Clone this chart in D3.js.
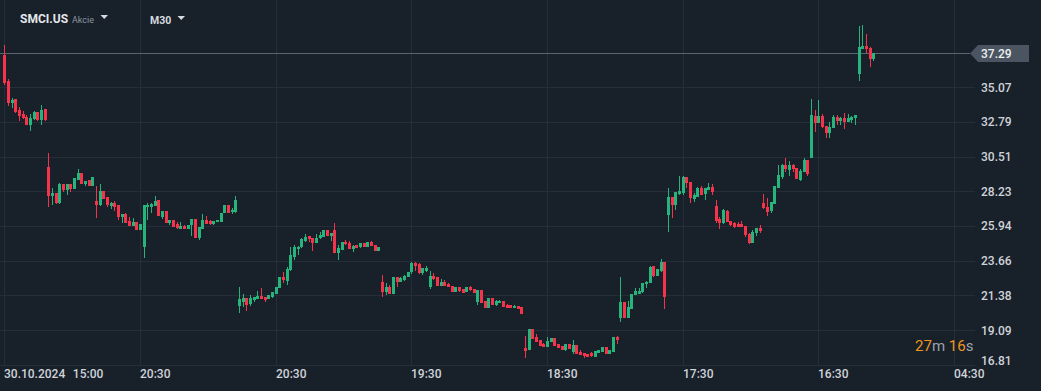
<!DOCTYPE html>
<html><head><meta charset="utf-8">
<script src="https://cdn.jsdelivr.net/npm/d3@7"></script>
<style>
html,body{margin:0;padding:0;background:#18202a;}
svg{display:block;}
</style></head><body>
<svg id="c" width="1041" height="391"></svg>
<script>
// ---- data (SMCI.US, M30 candles) ----
const opens=[37.17,35.47,34.00,34.28,33.56,33.30,33.08,32.60,32.95,33.41,32.90,33.61,
29.82,27.93,28.09,27.45,28.74,28.33,28.70,28.37,28.98,29.42,28.70,28.96,28.59,27.58,27.34,28.24,27.84,27.28,27.47,27.34,26.51,26.73,26.27,25.96,26.20,25.70,24.54,27.17,27.21,27.28,27.65,26.55,26.92,26.16,26.33,26.09,25.76,25.94,25.76,25.98,26.40,25.17,25.76,26.33,26.27,26.09,26.18,26.22,26.79,27.32,26.88,26.88,
20.69,20.97,21.19,20.82,21.08,21.17,21.32,21.26,21.12,21.26,21.50,21.85,22.61,22.33,23.05,23.93,24.45,24.58,24.98,25.28,25.15,24.85,25.13,25.20,25.68,25.31,25.68,24.15,24.39,24.91,24.85,24.43,24.69,24.56,24.83,24.56,24.87,24.72,24.32,
22.26,21.63,21.91,21.50,22.57,22.28,22.39,22.57,22.94,23.51,23.45,22.88,23.01,21.96,22.66,22.57,22.02,22.26,22.13,22.00,21.63,21.91,21.78,21.63,21.91,21.80,20.93,21.74,20.99,20.58,21.21,20.73,20.86,20.99,20.77,20.73,20.53,20.69,20.62,
17.90,17.80,19.17,18.67,18.47,18.21,18.01,18.30,18.61,18.19,18.06,17.82,18.19,17.69,18.10,17.69,17.60,17.53,17.58,17.36,17.62,17.69,18.00,17.56,17.69,18.63,
19.92,20.95,19.92,20.51,21.39,21.48,21.61,22.11,22.18,23.32,22.68,23.01,23.58,
26.69,27.85,27.33,28.07,28.11,29.16,28.81,27.72,27.87,28.44,28.07,28.31,28.51,
27.28,26.41,26.12,26.93,26.27,26.12,26.08,26.08,25.95,25.42,24.85,25.46,25.81,
27.46,27.17,26.95,27.41,28.46,29.14,29.95,29.60,29.95,29.73,28.95,29.47,30.28,30.39,33.17,32.69,33.17,32.52,32.08,32.36,33.09,32.87,33.04,32.80,32.91,33.02,
35.91,37.60,37.77,37.64,36.94];
const highs=[37.83,35.64,34.39,34.28,33.74,33.50,33.21,33.30,33.50,33.47,33.89,33.63,
30.74,28.44,28.09,28.79,28.74,28.70,28.70,29.09,29.68,29.42,28.92,28.96,29.16,28.59,28.70,28.24,27.84,27.52,27.58,27.34,26.75,26.77,26.53,26.47,26.20,26.11,27.32,27.49,27.49,27.91,27.65,26.92,26.92,26.33,26.33,26.20,26.20,25.98,26.00,26.40,26.40,25.90,26.73,26.60,26.33,26.27,26.33,26.79,27.34,27.32,27.10,27.91,
21.93,21.45,21.19,21.39,21.30,21.65,21.85,21.26,21.41,21.63,21.96,22.57,22.92,23.27,24.56,24.67,24.63,25.18,25.39,25.28,25.15,25.42,25.53,25.68,25.68,25.50,26.14,24.69,24.89,25.02,24.93,24.72,24.69,24.85,24.83,24.91,24.93,24.72,24.56,
22.72,22.17,22.07,22.57,22.57,22.57,22.72,22.92,23.58,23.58,23.53,23.16,23.31,22.96,22.83,22.61,22.48,22.39,22.17,22.00,21.91,21.91,21.78,21.93,22.00,21.80,21.74,21.74,20.99,21.21,21.21,21.08,21.10,21.01,20.82,20.73,20.75,20.69,20.64,
18.71,19.17,19.17,18.85,18.47,18.23,18.67,18.61,18.61,18.19,18.06,18.19,18.19,18.45,18.10,17.82,17.60,17.53,17.69,17.73,17.82,18.00,18.00,17.80,18.63,18.72,
22.60,20.95,21.02,21.48,21.87,21.87,22.22,22.33,23.32,23.32,23.14,23.80,23.58,
28.46,27.85,28.20,29.25,29.23,29.16,28.81,28.11,28.49,28.57,28.46,28.75,28.70,
27.65,26.56,27.08,27.00,26.27,26.23,26.23,26.27,25.95,25.46,25.68,25.79,26.01,
28.05,27.79,27.52,28.57,29.95,30.02,30.41,30.22,30.02,29.73,29.71,30.41,30.28,34.29,33.57,34.22,33.30,32.52,32.78,33.24,33.24,33.13,33.37,33.30,33.17,33.24,
39.09,39.15,38.56,37.73,37.33];
const lows=[35.20,33.85,33.69,33.39,32.86,33.01,32.58,32.20,32.90,32.84,32.60,32.84,
27.21,27.34,27.41,27.41,28.20,28.00,28.20,28.37,28.98,28.72,28.57,28.59,28.59,26.49,27.28,27.69,27.21,27.08,26.95,26.36,26.16,26.14,25.96,25.96,25.70,25.70,23.86,26.33,26.82,27.28,26.62,26.42,26.14,25.98,25.87,25.76,25.76,25.76,25.76,25.30,25.17,25.02,25.76,26.05,26.00,26.00,26.18,26.22,26.79,26.79,26.71,26.77,
20.20,20.64,20.38,20.69,20.97,21.12,21.15,20.95,21.12,21.23,21.50,21.85,22.20,22.09,22.99,23.71,24.04,24.52,24.89,24.91,24.32,24.85,25.09,25.20,25.31,24.98,24.15,23.71,24.37,24.72,24.41,24.26,24.52,24.52,24.58,24.56,24.65,24.32,24.32,
21.30,21.43,21.50,21.50,21.96,22.28,22.35,22.57,22.79,23.01,22.81,22.74,22.92,21.80,22.39,22.02,22.02,22.02,21.91,21.63,21.63,21.63,21.56,21.63,21.67,21.56,20.77,20.86,20.58,20.58,20.77,20.69,20.86,20.64,20.58,20.58,20.53,20.51,20.18,
17.29,17.80,18.54,18.34,18.08,18.01,18.01,18.30,18.08,17.95,17.82,17.73,17.88,17.53,17.53,17.47,17.25,17.31,17.36,17.36,17.58,17.69,17.56,17.56,17.69,18.19,
19.66,19.92,19.92,20.51,21.39,21.48,21.54,21.89,22.18,22.62,22.68,22.95,20.51,
25.57,26.49,27.02,27.96,27.96,28.42,27.48,27.54,27.87,27.98,27.68,28.31,27.98,
26.12,25.77,26.08,26.21,25.95,25.81,25.90,25.86,25.25,24.79,24.85,25.29,25.51,
27.04,26.63,26.82,27.41,28.46,29.06,29.49,29.25,29.47,29.01,28.90,29.47,29.25,30.39,32.14,32.69,32.36,31.75,31.75,32.36,32.58,32.58,32.34,32.80,32.73,32.60,
35.49,37.55,37.33,36.41,36.81];
const closes=[35.36,34.00,34.26,33.45,33.19,33.06,32.60,33.04,33.43,32.90,33.56,32.90,
27.93,28.13,27.45,28.74,28.33,28.70,28.37,29.09,29.42,28.72,28.90,28.59,29.16,27.34,28.24,27.71,27.34,27.47,27.21,26.51,26.73,26.16,25.96,26.20,25.70,26.07,27.32,27.32,27.39,27.56,26.62,26.90,26.16,26.33,25.90,25.83,25.94,25.76,25.98,26.40,25.17,25.85,26.33,26.11,26.09,26.25,26.33,26.79,27.32,26.79,26.99,27.65,
21.15,21.19,20.75,21.21,21.30,21.32,21.15,21.08,21.39,21.58,21.91,22.57,22.39,23.10,24.04,24.54,24.58,25.09,25.24,25.09,24.85,25.13,25.35,25.66,25.31,25.48,24.19,24.50,24.89,24.74,24.43,24.65,24.52,24.83,24.58,24.89,24.65,24.32,24.56,
21.61,21.91,21.50,22.57,22.28,22.50,22.66,22.90,23.51,23.31,22.88,23.16,23.18,22.63,22.44,22.02,22.24,22.02,21.91,21.63,21.91,21.69,21.56,21.91,21.74,21.56,21.74,20.90,20.58,21.21,20.77,21.01,21.01,20.64,20.58,20.58,20.66,20.51,20.18,
17.75,19.17,18.54,18.34,18.08,18.01,18.39,18.56,18.08,17.95,17.82,18.19,17.88,18.10,17.53,17.47,17.40,17.36,17.38,17.71,17.80,18.00,17.56,17.80,18.63,18.46,
20.95,19.92,20.62,21.48,21.70,21.68,22.18,22.29,23.25,22.66,23.14,23.58,21.30,
27.85,27.33,28.16,28.25,29.16,28.75,27.81,28.00,28.44,27.98,28.44,28.51,28.20,
26.30,26.12,27.00,26.23,25.99,25.90,25.90,25.86,25.36,24.85,25.53,25.79,25.62,
27.15,26.89,27.52,28.57,29.30,29.95,29.67,29.95,29.67,29.01,29.54,30.28,29.38,33.24,32.69,33.17,32.43,32.08,32.45,33.13,32.84,33.06,32.76,33.04,33.13,33.22,
37.68,37.75,37.55,36.94,37.29];

const priceTicks=[16.81,19.09,21.38,23.66,25.94,28.23,30.51,32.79,35.07];
const extraGridPrices=[37.35];
const timeTickIdx=[0,37,74,111,148,185,222,259];
const timeTickLabels=["30.10.2024","20:30","20:30","19:30","18:30","17:30","16:30","04:30"];
const extraTimeIdx=[18.7];
const extraTimeLabels=["15:00"];
const symbol="SMCI.US", symbolType="Akcie", interval="M30";
const lastPrice=37.29;
const countdown=[["27","m"],["16","s"]];

// ---- drawing ----
const W=1041,H=391;
const svg=d3.select("#c");
const C={bg:"#18202a",grid:"#252e38",up:"#27b47c",down:"#f5334a",text:"#cfd3d8",price:"#5b6570",tag:"#4a5561"};
const x=d3.scaleLinear().domain([0,259]).range([4.3,954]);
const y=d3.scaleLinear().domain([16.81,35.07]).range([365,87.2]);
const plotRight=975;

svg.append("rect").attr("width",W).attr("height",H).attr("fill",C.bg);

const g=svg.append("g");
g.selectAll("line.hg").data(priceTicks.concat(extraGridPrices)).join("line")
 .attr("x1",0).attr("x2",plotRight)
 .attr("y1",d=>Math.round(y(d))+0.5).attr("y2",d=>Math.round(y(d))+0.5)
 .attr("stroke",C.grid).attr("stroke-width",1);
g.selectAll("line.vg").data(timeTickIdx).join("line")
 .attr("x1",d=>Math.round(x(d))+0.5).attr("x2",d=>Math.round(x(d))+0.5)
 .attr("y1",0).attr("y2",365)
 .attr("stroke",C.grid).attr("stroke-width",1);

svg.append("line").attr("x1",0).attr("x2",970)
 .attr("y1",Math.round(y(lastPrice))+0.5).attr("y2",Math.round(y(lastPrice))+0.5)
 .attr("stroke",C.price).attr("stroke-width",1);

const candles=opens.map((o,i)=>({i,o,h:highs[i],l:lows[i],c:closes[i]}));
const cg=svg.append("g").attr("shape-rendering","crispEdges");
const cs=cg.selectAll("g").data(candles).join("g");
cs.append("rect")
 .attr("x",d=>Math.round(x(d.i)))
 .attr("width",1)
 .attr("y",d=>y(d.h))
 .attr("height",d=>Math.max(1,y(d.l)-y(d.h)))
 .attr("fill",d=>d.c>=d.o?C.up:C.down);
cs.append("rect")
 .attr("x",d=>Math.round(x(d.i))-1)
 .attr("width",3)
 .attr("y",d=>y(Math.max(d.o,d.c)))
 .attr("height",d=>Math.max(1,Math.abs(y(d.o)-y(d.c))))
 .attr("fill",d=>d.c>=d.o?C.up:C.down);

const font="Roboto, 'Noto Sans', sans-serif";
svg.selectAll("text.py").data(priceTicks).join("text")
 .attr("x",981).attr("y",(d,i)=>y(d)-(i===0?4:0)).attr("dy","0.36em")
 .attr("fill",C.text).attr("font-family",font).attr("font-size",12).attr("font-weight",500)
 .text(d=>d.toFixed(2));

svg.selectAll("text.tx").data(timeTickIdx).join("text")
 .attr("x",(d)=>Math.round(x(d))).attr("y",378)
 .attr("fill",C.text).attr("font-family",font).attr("font-size",12).attr("font-weight",500)
 .text((d,i)=>timeTickLabels[i]);
svg.selectAll("text.tx2").data(extraTimeIdx).join("text")
 .attr("x",d=>x(d)).attr("y",378)
 .attr("fill",C.text).attr("font-family",font).attr("font-size",12).attr("font-weight",500)
 .text((d,i)=>extraTimeLabels[i]);

const ty=y(lastPrice);
svg.append("path")
 .attr("d",`M970,${ty} L978,${ty-8.5} L1029,${ty-8.5} L1029,${ty+8.5} L978,${ty+8.5} Z`)
 .attr("fill",C.tag);
svg.append("text").attr("x",981).attr("y",ty).attr("dy","0.36em")
 .attr("fill","#eef0f2").attr("font-family",font).attr("font-size",12).attr("font-weight",500)
 .text(lastPrice.toFixed(2));

svg.append("text").attr("x",20).attr("y",23)
 .attr("fill","#e4e7ea").attr("font-family",font).attr("font-size",12).attr("font-weight",700)
 .text(symbol);
svg.append("text").attr("x",72).attr("y",23)
 .attr("fill","#8b959f").attr("font-family",font).attr("font-size",9)
 .text(symbolType);
svg.append("path").attr("d","M100.5,15 L108,15 L104.25,19 Z").attr("fill","#d6dadf");
svg.append("text").attr("x",150).attr("y",24)
 .attr("fill","#d6dadf").attr("font-family",font).attr("font-size",10.5).attr("font-weight",700)
 .text(interval);
svg.append("path").attr("d","M177.5,16 L185,16 L181.25,20 Z").attr("fill","#d6dadf");

const cd=svg.append("text").attr("x",915).attr("y",351)
 .attr("font-family",font).attr("font-size",15);
countdown.forEach((p,k)=>{
  cd.append("tspan").attr("fill","#f0961c").text((k?" ":"")+p[0]);
  cd.append("tspan").attr("fill","#9aa2aa").text(p[1]);
});
</script>
</body></html>
